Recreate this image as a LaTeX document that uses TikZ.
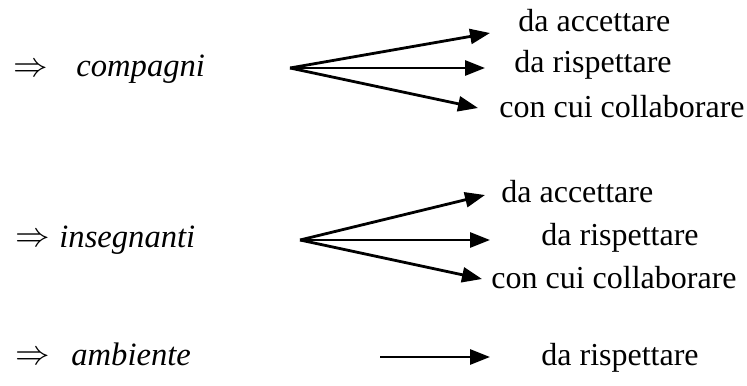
\documentclass[tikz,border=0pt]{standalone}
\usepackage{fontspec}
\setmainfont{Liberation Serif}
\usetikzlibrary{arrows.meta,positioning}

\begin{document}
\begin{tikzpicture}[x=0.5pt,y=-0.5pt,-{Triangle[length=10pt,width=7.5pt]},line width=1.4pt]
\tikzstyle{voce} = [inner sep=0pt,anchor=base west,font=\fontsize{16}{19}\selectfont]
\tikzstyle{soggetto} = [voce,font=\fontsize{16.3}{19}\selectfont\itshape]
\tikzstyle{implica} = [inner sep=0pt,anchor=west,font=\fontsize{16}{19}\selectfont]
\useasboundingbox (0,0) rectangle (747,385);

% compagni
\node[implica] (imp0) at (12,70) {$\Rightarrow$};
\node[soggetto] (sog0) at (75,76) {compagni};
\coordinate (or0) at (290,68);
\node[voce] (acc0) at (517,32) {da accettare};
\node[voce] (ris0) at (513,73) {da rispettare};
\node[voce] (col0) at (498,117) {con cui collaborare};
\coordinate (p0a) at (490,33);
\coordinate (p0b) at (485,68);
\coordinate (p0c) at (478,108);
\draw (or0) -- (p0a);
\draw (or0) -- (p0b);
\draw (or0) -- (p0c);

% insegnanti
\node[implica] (imp1) at (14,240) {$\Rightarrow$};
\node[soggetto] (sog1) at (58,247) {insegnanti};
\coordinate (or1) at (300,240);
\node[voce] (acc1) at (500,202) {da accettare};
\node[voce] (ris1) at (540,245) {da rispettare};
\node[voce] (col1) at (490,288) {con cui collaborare};
\coordinate (p1a) at (485,195);
\coordinate (p1b) at (490,240);
\coordinate (p1c) at (482,279);
\draw (or1) -- (p1a);
\draw (or1) -- (p1b);
\draw (or1) -- (p1c);

% ambiente
\node[implica] (imp2) at (14,358) {$\Rightarrow$};
\node[soggetto] (sog2) at (70,365) {ambiente};
\coordinate (or2) at (380,357);
\node[voce] (ris2) at (540,365) {da rispettare};
\coordinate (p2a) at (490,357);
\draw (or2) -- (p2a);
\end{tikzpicture}
\end{document}
